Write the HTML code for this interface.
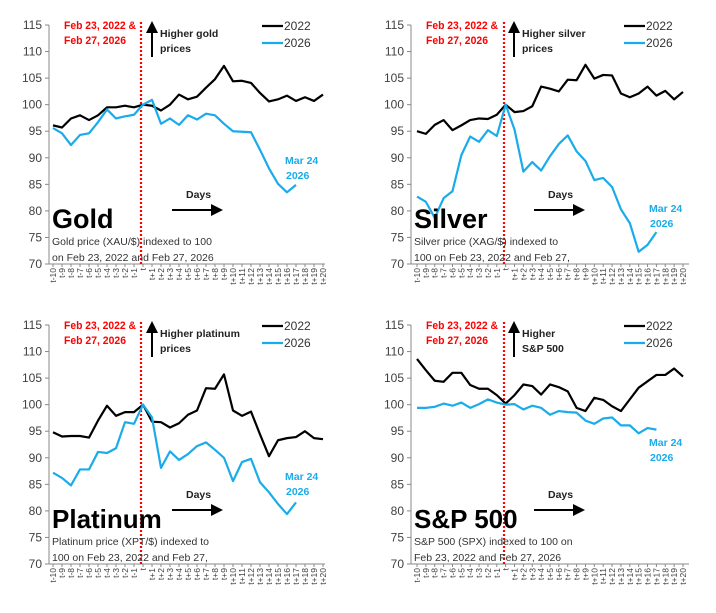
<!DOCTYPE html>
<html><head><meta charset="utf-8"><style>
html,body{margin:0;padding:0;background:#fff;}
svg{display:block;font-family:"Liberation Sans",sans-serif;}
</style></head><body>
<svg id="s" width="716" height="613" viewBox="0 0 716 613" xmlns="http://www.w3.org/2000/svg"></svg>
<script>
const P=[
{ax:49,x0:53,x1:323,end:325,yT:25,yB:264,red:141,
a:[96.1,95.7,97.4,98,97.1,98,99.5,99.5,99.8,99.5,100,99.8,98.9,100,101.9,101,101.5,103.2,104.8,107.3,104.4,104.5,104.1,102.2,100.6,101,101.7,100.7,101.4,100.7,101.9],
b:[95.6,94.6,92.4,94.3,94.6,96.7,99.1,97.4,97.8,98.1,100,100.9,96.4,97.4,96.2,98,97.2,98.3,98,96.4,95,94.9,94.8,91.5,88,85.1,83.5,84.9],
title:"Gold",tsz:27,higher:["Higher gold","prices"],sub:["Gold price (XAU/$) indexed to 100","on Feb 23, 2022 and Feb 27, 2026"],mar:[285,160]},
{ax:411,x0:417,x1:683,end:689,yT:25,yB:264,red:504,
a:[95,94.5,96.2,97.1,95.2,96.1,97.1,97.4,97.3,98.1,100,98.6,98.8,99.7,103.4,103,102.5,104.7,104.6,107.5,104.9,105.6,105.5,102.1,101.4,102.1,103.4,101.7,102.6,101,102.4],
b:[82.7,81.7,78.7,82.4,83.7,90.5,94,93,95.2,94.1,100,95.3,87.4,89.2,87.6,90.3,92.6,94.2,91.2,89.4,85.8,86.2,84.5,80.3,77.7,72.3,73.6,76],
title:"Silver",tsz:27,higher:["Higher silver","prices"],sub:["Silver price (XAG/$) indexed to","100 on Feb 23, 2022 and Feb 27,"],mar:[649,208]},
{ax:49,x0:53,x1:323,end:325,yT:325,yB:564,red:141,
a:[94.8,94,94.1,94.1,93.8,97,99.8,97.9,98.6,98.6,100,96.8,96.7,95.7,96.5,98.1,98.9,103.1,103,105.7,98.9,97.9,98.7,94.4,90.3,93.3,93.7,93.9,95,93.7,93.5],
b:[87.2,86.2,84.8,87.8,87.8,91.1,90.9,91.8,96.7,96.4,100,97.6,88.1,91.2,89.6,90.7,92.2,92.9,91.5,90,85.6,89.2,89.8,85.4,83.5,81.3,79.4,81.6],
title:"Platinum",tsz:26,higher:["Higher platinum","prices"],sub:["Platinum price (XPT/$) indexed to","100 on Feb 23, 2022 and Feb 27,"],mar:[285,476]},
{ax:411,x0:417,x1:683,end:689,yT:325,yB:564,red:504,
a:[108.6,106.5,104.5,104.3,106,106,103.7,103,103,101.8,100.2,101.8,103.8,103.5,101.9,103.8,103.3,102.5,99.4,98.8,101.3,100.9,99.7,98.8,101,103.2,104.4,105.6,105.6,106.8,105.3],
b:[99.4,99.4,99.6,100.2,99.8,100.4,99.4,100.1,101,100.4,100,100.1,99.1,99.8,99.4,98.1,98.8,98.6,98.5,97,96.4,97.4,97.6,96.1,96.1,94.6,95.6,95.3],
title:"S&amp;P 500",tsz:26,higher:["Higher","S&amp;P 500"],sub:["S&amp;P 500 (SPX) indexed to 100 on","Feb 23, 2022 and Feb 27, 2026"],mar:[649,442]}
];
const labs=[];for(let i=-10;i<=20;i++)labs.push(i<0?"t"+i:i==0?"t":"t+"+i);
let h='<defs><marker id="ah" markerWidth="6" markerHeight="6" refX="3" refY="3" orient="auto"><path d="M0,0 L6,3 L0,6 z" fill="#000"/></marker></defs>';
for(const p of P){
 const Y=v=>p.yT+(115-v)*(p.yB-p.yT)/45, X=i=>p.x0+i*(p.x1-p.x0)/30;
 const dx=p.ax-49, dy=p.yT-25;
 h+=`<line x1="${p.ax}" y1="${p.yT}" x2="${p.ax}" y2="${p.yB}" stroke="#888" stroke-width="1"/>`;
 h+=`<line x1="${p.ax}" y1="${p.yB}" x2="${p.end}" y2="${p.yB}" stroke="#888" stroke-width="1"/>`;
 for(let v=70;v<=115;v+=5){const y=Y(v);h+=`<line x1="${p.ax-4}" y1="${y}" x2="${p.ax}" y2="${y}" stroke="#888"/><text x="${p.ax-7}" y="${y+4}" font-size="12" fill="#404040" text-anchor="end">${v}</text>`;}
 for(let i=0;i<31;i++){const x=X(i);h+=`<line x1="${x}" y1="${p.yB}" x2="${x}" y2="${p.yB+3}" stroke="#888"/><text transform="translate(${x+3},${p.yB+4}) rotate(-90)" font-size="8.5" fill="#404040" text-anchor="end">${labs[i]}</text>`;}
 h+=`<line x1="${p.red}" y1="${p.yT-3}" x2="${p.red}" y2="${p.yB}" stroke="#ff0000" stroke-width="2.2" stroke-dasharray="2,2"/>`;
 h+=`<polyline fill="none" stroke="#000" stroke-width="2.2" stroke-linejoin="round" points="${p.a.map((v,i)=>X(i)+','+Y(v)).join(' ')}"/>`;
 h+=`<polyline fill="none" stroke="#1aacea" stroke-width="2.2" stroke-linejoin="round" points="${p.b.map((v,i)=>X(i)+','+Y(v)).join(' ')}"/>`;
 h+=`<text x="${64+dx}" y="${29+dy}" font-size="11" font-weight="bold" fill="#ff0000" textLength="72" lengthAdjust="spacingAndGlyphs">Feb 23, 2022 &amp;</text>`;
 h+=`<text x="${64+dx}" y="${44+dy}" font-size="11" font-weight="bold" fill="#ff0000" textLength="62" lengthAdjust="spacingAndGlyphs">Feb 27, 2026</text>`;
 h+=`<line x1="${152+dx}" y1="${57+dy}" x2="${152+dx}" y2="${27+dy}" stroke="#000" stroke-width="2" marker-end="url(#ah)"/>`;
 h+=`<text font-size="10.5" font-weight="bold" fill="#222"><tspan x="${160+dx}" y="${37+dy}">${p.higher[0]}</tspan><tspan x="${160+dx}" y="${52+dy}">${p.higher[1]}</tspan></text>`;
 h+=`<line x1="${262+dx}" y1="${26+dy}" x2="${283+dx}" y2="${26+dy}" stroke="#000" stroke-width="2.2"/><text x="${284+dx}" y="${30+dy}" font-size="12" fill="#333">2022</text>`;
 h+=`<line x1="${262+dx}" y1="${43+dy}" x2="${283+dx}" y2="${43+dy}" stroke="#1aacea" stroke-width="2.2"/><text x="${284+dx}" y="${47+dy}" font-size="12" fill="#333">2026</text>`;
 h+=`<text font-size="10.5" font-weight="bold" fill="#1aacea"><tspan x="${p.mar[0]}" y="${p.mar[1]+4}">Mar 24</tspan><tspan x="${p.mar[0]+1}" y="${p.mar[1]+19}">2026</tspan></text>`;
 h+=`<text x="${186+dx}" y="${198+dy}" font-size="10.5" font-weight="bold" fill="#222">Days</text>`;
 h+=`<line x1="${172+dx}" y1="${210+dy}" x2="${217+dx}" y2="${210+dy}" stroke="#000" stroke-width="2" marker-end="url(#ah)"/>`;
 h+=`<text x="${52+dx}" y="${228+dy}" font-size="${p.tsz}" font-weight="bold" fill="#000">${p.title}</text>`;
 h+=`<text font-size="10.5" fill="#333"><tspan x="${52+dx}" y="${245+dy}">${p.sub[0]}</tspan><tspan x="${52+dx}" y="${261+dy}">${p.sub[1]}</tspan></text>`;
}
document.getElementById('s').innerHTML=h;
</script>
</body></html>
